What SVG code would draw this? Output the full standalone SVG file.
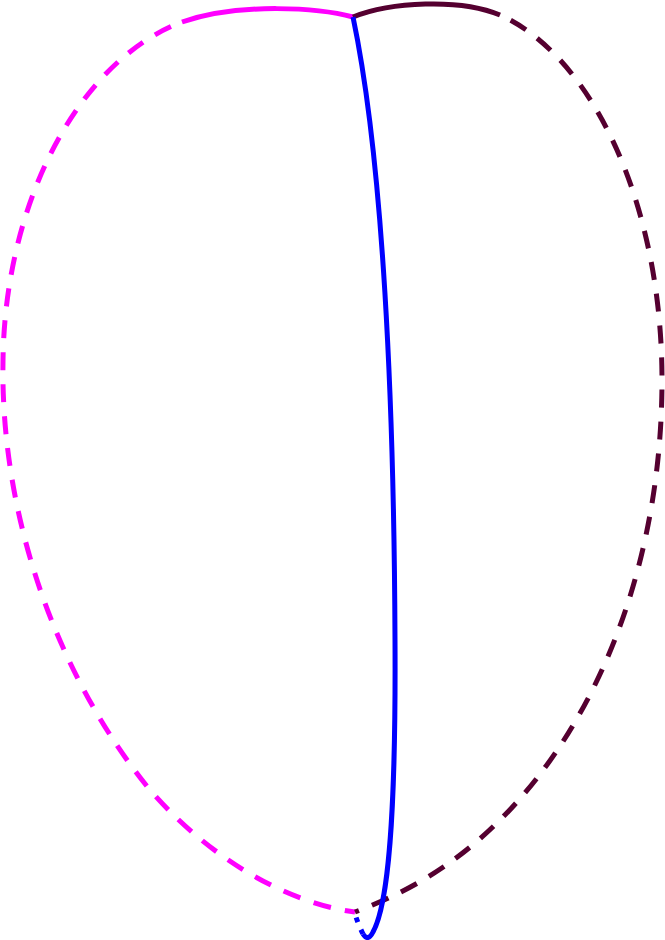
<svg xmlns="http://www.w3.org/2000/svg" width="665" height="940" viewBox="0 0 665 940">
<style>
.e{fill:none;stroke-width:5;stroke-linecap:butt}
.m{stroke:#ff00ff}
.r{stroke:#550030}
.b{stroke:#0000ff}
.d{stroke-dasharray:18 14;stroke-dashoffset:-12}
</style>
<rect width="665" height="940" fill="#fff"/>
<g id="connectors">
<path class="e m" d="M353,17 C320,8 240,2 182,22"/>
<path class="e m d" d="M182,22 C80,60 5,200 3,360 C0,520 60,680 150,790 C220,870 300,905 355,912"/>
<path class="e r" d="M353,17 C390,2 460,-2 500,15"/>
<path class="e r d" d="M500,15 C590,55 662,200 662,380 C662,560 600,720 500,820 C450,870 400,895 355,912"/>
<path class="e b" d="M353,17 C383,160 394,400 395,640 C396,820 388,905 373,932 Q368,942 363,934"/>
<path class="e b" stroke-dasharray="5 8" d="M363,934 Q358,924 354,911"/>
</g>
</svg>
